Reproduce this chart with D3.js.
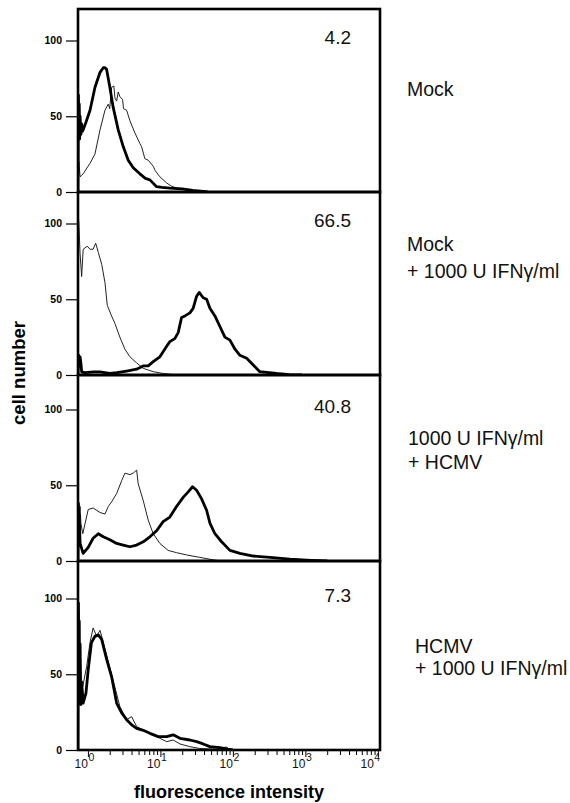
<!DOCTYPE html>
<html>
<head>
<meta charset="utf-8">
<script src="https://cdn.jsdelivr.net/npm/d3@7"></script>
<style>
  body { margin: 0; background: #fff; }
  svg { display: block; font-family: "Liberation Sans", Arial, sans-serif; }
</style>
</head>
<body>
<div id="chart"></div>
<script>
// donnees (intensite de fluorescence, nombre de cellules)
const panelLabels = [
  ["Mock"],
  ["Mock", "+ 1000 U IFN\u03b3/ml"],
  ["1000 U IFN\u03b3/ml", "+ HCMV"],
  ["HCMV", "+ 1000 U IFN\u03b3/ml"]
];
const percentPositive = ["4.2", "66.5", "40.8", "7.3"];
const countTicks = [0, 50, 100];
const decadeTicks = [1, 10, 100, 1000, 10000];
const decadeExps = ["0", "1", "2", "3", "4"];
const minorSteps = [2, 3, 4, 5, 6, 7, 8, 9];

// controle (trait fin)
const mockThin = [[0.73,0],[0.75,20],[0.78,10],[0.82,11],[0.86,12],[1.07,19],[1.25,25],[1.47,41],[1.72,54],[1.91,58],[2.0,55],[2.12,69],[2.28,70],[2.36,62],[2.49,60],[2.62,66],[2.76,63],[3.01,61],[3.1,55],[3.42,54],[3.8,47],[4.45,39],[5.21,32],[5.5,30],[6.1,22],[6.79,21],[7.96,17],[8.5,14],[9.84,10],[12.2,6],[14,4],[16.7,2.5],[25.5,1],[35,0]];
const mockIfnThin = [[0.73,0],[0.735,107],[0.75,100],[0.78,80],[0.82,65],[0.86,83],[0.98,85],[1.07,83],[1.18,83],[1.28,87],[1.39,81],[1.55,73],[1.72,61],[1.85,46],[2.12,39],[2.36,34],[2.76,25],[3.24,17],[3.8,12],[4.7,8],[5.79,4.4],[7.96,2.2],[10.9,1],[15,0.3],[20,0]];
const ifnHcmvThin = [[0.73,0],[0.74,38],[0.76,30],[0.78,36],[0.8,25],[0.85,18],[1.01,34],[1.18,35],[1.47,32],[1.72,31],[1.91,36],[2.12,39],[2.49,44.5],[2.92,53],[3.24,58],[3.8,57],[4.22,58],[4.7,60],[4.94,51],[5.79,40],[6.79,27],[7.96,18],[9.84,11.6],[12.8,7],[16.7,5.5],[23,4],[35,2.4],[50,1],[70,0]];
const hcmvIfnThin = [[0.73,0],[0.75,45],[0.78,35],[0.85,42],[0.96,55],[1.07,71],[1.18,80.6],[1.32,75],[1.47,79],[1.63,71],[2.12,50],[2.76,28.7],[3.42,20],[4.01,22],[4.7,15.5],[6.45,12],[8.87,8.8],[12.2,5.5],[15,6.6],[18.6,4],[25.5,2.2],[35,1],[60,0.5],[81.8,2],[90,0]];

// anticorps specifique (trait epais)
const mockThick = [[0.73,0],[0.74,64],[0.75,40],[0.76,58],[0.77,35],[0.78,50],[0.8,38],[0.82,45],[0.84,40],[0.86,41],[0.94,46],[1.07,54],[1.25,69],[1.47,79],[1.63,82],[1.72,82],[1.81,81],[2.01,69],[2.23,56],[2.62,41],[3.07,30],[3.6,21],[4.22,16],[5.21,12],[6.2,9],[7.16,8],[8.87,3.5],[10.5,3],[13.5,2.5],[20,2],[28,1],[36,0.5],[45,0]];
const mockIfnThick = [[0.73,0],[0.75,13],[0.76,6],[0.78,12],[0.8,8],[0.82,2],[0.9,1.5],[1.2,2],[1.47,2],[2.0,1],[2.5,1.5],[3.42,2.6],[4.7,3.8],[5.79,6],[6.79,6],[7.96,8.8],[9.84,12],[12.2,19],[13.5,22],[15.8,24],[17.6,28],[19.6,38],[21.8,39],[25.5,41],[28.3,44],[31.6,52],[34.3,54.5],[38.9,51],[43.4,50],[48.2,44],[56.5,39],[66.2,32],[77.6,25],[91,23],[107,17],[125,13],[155,11],[191,6.6],[235,2.2],[401,1],[600,0.3],[900,0]];
const ifnHcmvThick = [[0.73,0],[0.74,38],[0.75,20],[0.76,30],[0.78,11.6],[0.86,5],[1.01,9],[1.18,15],[1.39,18],[1.63,16],[2.01,14],[2.49,11.6],[3.07,10.5],[3.8,9.4],[4.7,10.5],[5.79,12.7],[7.16,16],[8.87,20],[10.9,26],[13.5,29],[16.7,36],[20.6,42],[24.2,45.6],[27.8,49],[31.6,46.7],[37,41],[43.4,33.5],[48.2,25],[56.5,18],[69.8,12.7],[91,7],[125,5],[191,3.3],[324,2.4],[611,1.2],[1200,0.4],[2000,0]];
const hcmvIfnThick = [[0.73,0],[0.74,97],[0.75,60],[0.76,85],[0.77,40],[0.78,70],[0.8,30],[0.82,45],[0.86,31],[0.94,37.5],[1.01,53],[1.12,71],[1.25,75],[1.39,76],[1.55,73],[1.81,60],[2.12,48.5],[2.49,31],[2.92,24.5],[3.42,20],[4.01,16.6],[4.7,14.3],[5.79,13],[7.16,11],[9.33,8.8],[12.2,8.8],[15,10],[18.6,7.7],[25.5,6.6],[31.6,5.5],[38.9,4],[48.2,2.2],[66.2,1.5],[85,0.5],[100,0]];

const thinCurves = [mockThin, mockIfnThin, ifnHcmvThin, hcmvIfnThin];
const thickCurves = [mockThick, mockIfnThick, ifnHcmvThick, hcmvIfnThick];

// mise en page
const W = 570, H = 803;
const plotLeft = 78, plotRight = 380;
const panelTops = [9, 192, 375, 561];
const panelBottoms = [192, 375, 561, 750];
const labelX = [407, 407, 408, 415];
const labelY = [[96], [251, 278], [445, 469], [653, 675]];

const svg = d3.select("#chart")
  .append("svg")
    .attr("width", W)
    .attr("height", H);

const x = d3.scaleLog()
  .domain([0.73, 10700])
  .range([plotLeft, plotRight]);

panelBottoms.forEach(function(bottom, i) {
  const top = panelTops[i];
  const y = d3.scaleLinear()
    .domain([0, 100])
    .range([bottom, bottom - 151.5]);

  const g = svg.append("g");

  g.append("clipPath")
    .attr("id", "clip" + i)
    .append("rect")
      .attr("x", plotLeft)
      .attr("y", top)
      .attr("width", plotRight - plotLeft)
      .attr("height", bottom - top);

  const line = d3.line()
    .x(d => x(d[0]))
    .y(d => y(d[1]));

  // histogrammes
  g.append("path")
    .datum(thinCurves[i])
    .attr("d", line)
    .attr("fill", "none")
    .attr("stroke", "#222")
    .attr("stroke-width", 1)
    .attr("stroke-linejoin", "round")
    .attr("clip-path", `url(#clip${i})`);

  g.append("path")
    .datum(thickCurves[i])
    .attr("d", line)
    .attr("fill", "none")
    .attr("stroke", "#000")
    .attr("stroke-width", 2.8)
    .attr("stroke-linejoin", "round")
    .attr("clip-path", `url(#clip${i})`);

  // cadre
  g.append("rect")
    .attr("x", plotLeft)
    .attr("y", top)
    .attr("width", plotRight - plotLeft)
    .attr("height", bottom - top)
    .attr("fill", "none")
    .attr("stroke", "#000")
    .attr("stroke-width", 2.6);

  // axe Y
  const yAxis = g.append("g")
    .attr("transform", `translate(${plotLeft - 1}, 0)`)
    .call(d3.axisLeft(y).tickValues(countTicks).tickSize(11).tickPadding(4));
  yAxis.select(".domain").remove();
  yAxis.selectAll("line").attr("stroke", "#000").attr("stroke-width", 1.2);
  yAxis.selectAll("text")
    .attr("font-family", "Liberation Sans, Arial, sans-serif")
    .attr("font-size", 10.5)
    .attr("font-weight", "bold")
    .attr("fill", "#000");

  // pourcentage positif
  g.append("text")
    .attr("x", 351)
    .attr("y", y(97.5))
    .attr("text-anchor", "end")
    .attr("font-size", 19)
    .attr("fill", "#111")
    .text(percentPositive[i]);

  // legende de droite
  g.selectAll(".cond" + i)
    .data(panelLabels[i])
    .enter()
    .append("text")
      .attr("x", labelX[i])
      .attr("y", (d, j) => labelY[i][j])
      .attr("font-size", 19.5)
      .attr("fill", "#111")
      .text(d => d);
});

// axe X (panneau du bas)
const allTicks = [];
decadeTicks.forEach(function(d) {
  allTicks.push(d);
  if (d < 10000) minorSteps.forEach(m => allTicks.push(d * m));
});

const xAxis = svg.append("g")
  .attr("transform", `translate(0, ${panelBottoms[3] + 1})`)
  .call(d3.axisBottom(x).tickValues(allTicks).tickSize(5).tickFormat(""));
xAxis.select(".domain").remove();
xAxis.selectAll("line")
  .attr("stroke", "#000")
  .attr("stroke-width", 1)
  .attr("y2", d => decadeTicks.includes(d) ? 6 : 4);

const decadeLabels = svg.append("g");
decadeTicks.forEach(function(d, i) {
  decadeLabels.append("text")
    .attr("x", x(d) + (i === 4 ? -4 : 0))
    .attr("y", 768)
    .attr("text-anchor", "end")
    .attr("font-size", 12)
    .attr("fill", "#111")
    .text("10");
  decadeLabels.append("text")
    .attr("x", x(d) + (i === 4 ? -3.5 : 0.5))
    .attr("y", 761)
    .attr("font-size", 10.5)
    .attr("fill", "#111")
    .text(decadeExps[i]);
});

// titres des axes
svg.append("text")
  .attr("x", 229)
  .attr("y", 798)
  .attr("text-anchor", "middle")
  .attr("font-size", 18)
  .attr("font-weight", "bold")
  .attr("fill", "#000")
  .text("fluorescence intensity");

svg.append("text")
  .attr("transform", "translate(25, 373) rotate(-90)")
  .attr("text-anchor", "middle")
  .attr("font-size", 18.5)
  .attr("font-weight", "bold")
  .attr("fill", "#000")
  .text("cell number");
</script>
</body>
</html>
